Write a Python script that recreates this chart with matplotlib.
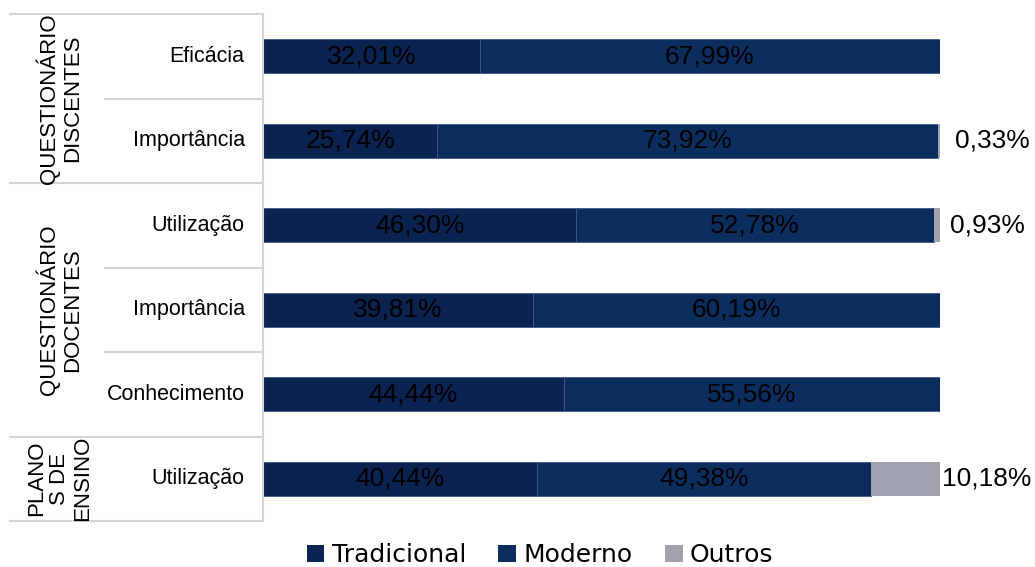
import matplotlib.pyplot as plt
from matplotlib.patches import Patch

# dados
categorias = ["Eficácia", "Importância", "Utilização", "Importância", "Conhecimento", "Utilização"]
tradicional = [32.01, 25.74, 46.30, 39.81, 44.44, 40.44]
moderno = [67.99, 73.92, 52.78, 60.19, 55.56, 49.38]
outros = [0.0, 0.33, 0.93, 0.0, 0.0, 10.18]
grupos = ["QUESTIONÁRIO\nDISCENTES", "QUESTIONÁRIO\nDOCENTES", "PLANO\nS DE\nENSINO"]
grupo_linhas = [(0, 1), (2, 4), (5, 5)]

cor_trad = "#0b2350"
cor_mod = "#0b2d5e"
cor_out = "#a0a2b0"
cor_grade = "#d4d4d4"

plt.rcParams['font.family'] = ['Liberation Sans', 'DejaVu Sans']

fig = plt.figure(figsize=(10.35, 5.67), dpi=100)
ax = fig.add_axes([263 / 1035, 1 - 521 / 567, (940 - 263) / 1035, (521 - 14) / 567])

y = list(range(len(categorias)))
esq_mod = tradicional
esq_out = [t + m for t, m in zip(tradicional, moderno)]

ax.barh(y, tradicional, height=0.4, color=cor_trad, edgecolor="#3d5a86", linewidth=0.6)
ax.barh(y, moderno, left=esq_mod, height=0.4, color=cor_mod, edgecolor="#3d5a86", linewidth=0.6)
ax.barh(y, outros, left=esq_out, height=0.4, color=cor_out, edgecolor="none")

ax.set_xlim(0, 100)
ax.set_ylim(5.5, -0.5)
ax.axis("off")

# rótulos dentro das barras
for i in y:
    ax.text(tradicional[i] / 2, i, f"{tradicional[i]:.2f}%".replace(".", ","),
            ha="center", va="center", fontsize=19, color="black")
    ax.text(tradicional[i] + moderno[i] / 2, i, f"{moderno[i]:.2f}%".replace(".", ","),
            ha="center", va="center", fontsize=19, color="black")
    if outros[i] > 0:
        off = {0.33: 2.2, 0.93: 1.5, 10.18: 0.3}.get(outros[i], 1.0)
        ax.text(100 + off, i, f"{outros[i]:.2f}%".replace(".", ","),
                ha="left", va="center", fontsize=19, color="black", clip_on=False)

# tabela de categorias à esquerda
tr = ax.get_yaxis_transform()
x_cat = -(263 - 105) / 677
x_grp = -(263 - 10) / 677
ax.plot([0, 0], [-0.5, 5.5], transform=tr, color=cor_grade, lw=1.5, clip_on=False)

limites_grupo = {-0.5, 1.5, 4.5, 5.5}
for b in [-0.5, 0.5, 1.5, 2.5, 3.5, 4.5, 5.5]:
    x0 = x_grp if b in limites_grupo else x_cat
    ax.plot([x0, 0], [b, b], transform=tr, color=cor_grade, lw=1.5, clip_on=False)

for i, c in enumerate(categorias):
    ax.text(-0.027, i, c, transform=tr, ha="right", va="center", fontsize=15.5)

for g, (a, b) in zip(grupos, grupo_linhas):
    ax.text((x_grp + x_cat) / 2 + 0.003, (a + b) / 2, g, transform=tr, rotation=90,
            ha="center", va="center", fontsize=16, multialignment="center",
            linespacing=1.15)

# legenda
handles = [Patch(facecolor=cor_trad, label="Tradicional"),
           Patch(facecolor=cor_mod, label="Moderno"),
           Patch(facecolor=cor_out, label="Outros")]
fig.legend(handles=handles, loc="center", bbox_to_anchor=(540 / 1035, 1 - 555 / 567),
           ncol=3, frameon=False, handlelength=0.7, handleheight=0.7,
           handletextpad=0.3, columnspacing=1.3, prop={'family': 'DejaVu Sans', 'size': 18})

fig.savefig("out.png", dpi=100)
